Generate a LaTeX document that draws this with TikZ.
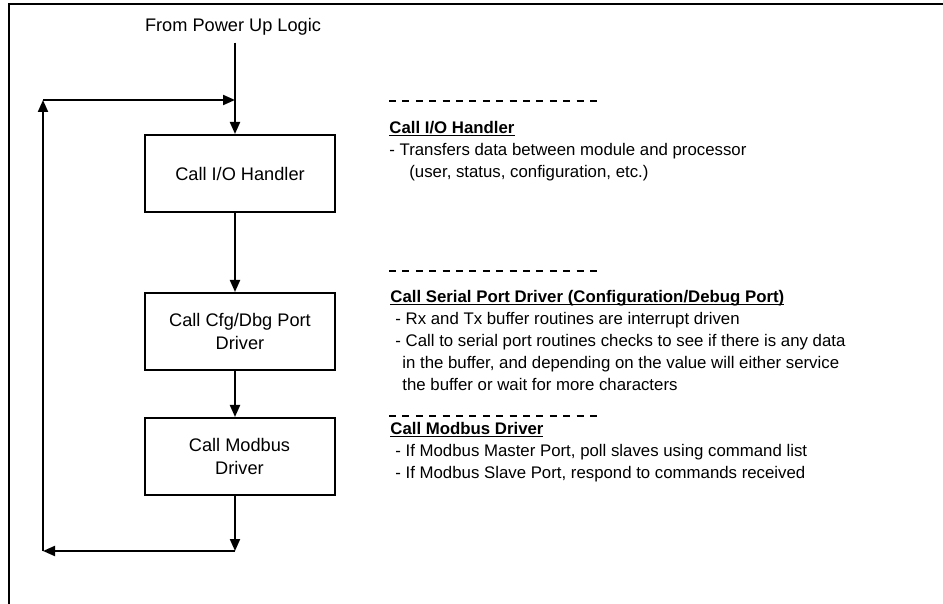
\documentclass[tikz,border=0pt]{standalone}
\usepackage{fontspec}
\setmainfont{Liberation Sans}
\usetikzlibrary{arrows.meta}

\newsavebox\hdbox
\newcommand\hdline[1]{\sbox\hdbox{\textbf{#1}}\usebox\hdbox\llap{\rule[-1.3pt]{\wd\hdbox}{0.6pt}}}

\tikzset{
  proc/.style={draw, line width=1pt, minimum width=95pt, minimum height=38.5pt,
    align=center, font=\fontsize{9.1}{11.5}\selectfont},
  flow/.style={line width=1pt, -{Triangle[length=6pt,width=5pt]}},
  note/.style={anchor=north west, inner sep=0pt, align=left,
    font=\fontsize{8.4}{11}\selectfont},
  sepline/.style={line width=0.7pt, dash pattern=on 3.5pt off 3.2pt},
}

\begin{document}
\begin{tikzpicture}[x=0.5pt,y=-0.5pt]
\useasboundingbox (0,0) rectangle (943,604);
%枠
\draw[line width=1.2pt] (9,604) -- (9,4) -- (943,4);

%ブロック
\node (start) at (233,27) [font=\fontsize{9.1}{11}\selectfont] {From Power Up Logic};
\node[proc] (io) at (240,173.5) {Call I/O Handler};
\node[proc] (cfg) at (240,331.5) {Call Cfg/Dbg Port\\Driver};
\node[proc] (mod) at (239.5,456.5) {Call Modbus\\Driver};

%ループの角
\coordinate (join) at (235,100);
\coordinate (bot) at (235,551);
\coordinate (botleft) at (43,551);
\coordinate (topleft) at (43,100);

%矢印
\draw[flow] (start.south -| join) -- (io.north -| join);
\draw[flow] (io.south -| join) -- (cfg.north -| join);
\draw[flow] (cfg.south -| join) -- (mod.north -| join);
\draw[flow] (mod.south -| join) -- (bot);
\draw[flow] (bot) -- (botleft);
\draw[flow] (botleft) -- (topleft);
\draw[flow] (topleft) -- (join);

%説明
\foreach \y in {101,271,416}
  \draw[sepline] (389,\y) -- (602,\y);

\node[note] (ionote) at (389,121) {\hdline{Call I/O Handler}\\
- Transfers data between module and processor\\
\hspace{10pt}(user, status, configuration, etc.)};

\node[note] (cfgnote) at (390,290) {\hdline{Call Serial Port Driver (Configuration/Debug Port)}\\
\hspace{2.5pt}- Rx and Tx buffer routines are interrupt driven\\
\hspace{2.5pt}- Call to serial port routines checks to see if there is any data\\
\hspace{6pt}in the buffer, and depending on the value will either service\\
\hspace{6pt}the buffer or wait for more characters};

\node[note] (modnote) at (390,422) {\hdline{Call Modbus Driver}\\
\hspace{2.5pt}- If Modbus Master Port, poll slaves using command list\\
\hspace{2.5pt}- If Modbus Slave Port, respond to commands received};
\end{tikzpicture}
\end{document}
